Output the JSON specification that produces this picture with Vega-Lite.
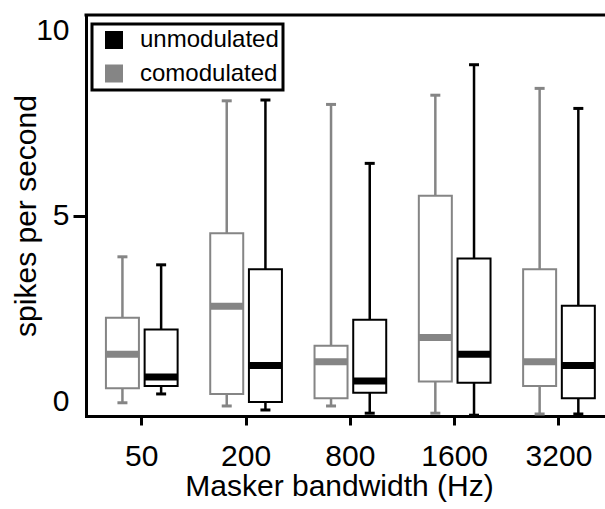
{
  "$schema": "https://vega.github.io/schema/vega-lite/v6.json",
  "width": 519,
  "height": 401,
  "autosize": {"type": "none"},
  "padding": {"left": 86, "top": 15, "right": 0, "bottom": 93},
  "background": "white",
  "config": {"view": {"stroke": null}, "font": "Liberation Sans"},
  "data": {
    "values": [
      {"band": "50", "cond": "comodulated", "lower": 0.33, "q1": 0.69, "median": 1.54, "q3": 2.45, "upper": 3.97},
      {"band": "50", "cond": "unmodulated", "lower": 0.55, "q1": 0.75, "median": 0.97, "q3": 2.16, "upper": 3.77},
      {"band": "200", "cond": "comodulated", "lower": 0.25, "q1": 0.55, "median": 2.74, "q3": 4.56, "upper": 7.86},
      {"band": "200", "cond": "unmodulated", "lower": 0.15, "q1": 0.35, "median": 1.26, "q3": 3.66, "upper": 7.88},
      {"band": "800", "cond": "comodulated", "lower": 0.25, "q1": 0.44, "median": 1.35, "q3": 1.75, "upper": 7.77},
      {"band": "800", "cond": "unmodulated", "lower": 0.07, "q1": 0.58, "median": 0.87, "q3": 2.40, "upper": 6.30},
      {"band": "1600", "cond": "comodulated", "lower": 0.07, "q1": 0.86, "median": 1.96, "q3": 5.49, "upper": 8.00},
      {"band": "1600", "cond": "unmodulated", "lower": 0.02, "q1": 0.83, "median": 1.54, "q3": 3.93, "upper": 8.76},
      {"band": "3200", "cond": "comodulated", "lower": 0.05, "q1": 0.75, "median": 1.35, "q3": 3.66, "upper": 8.17},
      {"band": "3200", "cond": "unmodulated", "lower": 0.05, "q1": 0.44, "median": 1.26, "q3": 2.75, "upper": 7.67}
    ]
  },
  "layer": [
    {
      "encoding": {
        "x": {
          "field": "band", "type": "ordinal",
          "sort": ["50", "200", "800", "1600", "3200"],
          "scale": {"paddingInner": 0.258, "paddingOuter": 0.117, "align": 0.7},
          "axis": {
            "domainWidth": 3, "domainColor": "black", "domainCap": "square",
            "tickSize": 9, "tickWidth": 3, "tickColor": "black",
            "labelFontSize": 30, "labelColor": "black", "labelPadding": 16, "labelAngle": 0,
            "title": "Masker bandwidth (Hz)", "titleFontSize": 30, "titleFontWeight": "normal",
            "titleColor": "black", "titleBaseline": "alphabetic", "titleY": 79, "titleX": 253
          }
        },
        "xOffset": {
          "field": "cond", "type": "nominal",
          "sort": ["comodulated", "unmodulated"],
          "scale": {"paddingInner": 0, "paddingOuter": 0}
        }
      },
      "layer": [
        {
          "mark": {"type": "rule", "strokeWidth": 2.5},
          "encoding": {
            "y": {
              "field": "lower", "type": "quantitative",
              "scale": {"domain": [0, 10], "nice": false, "zero": false},
              "axis": {
                "values": [0, 5, 10], "labelFlush": true, "grid": false,
                "domainWidth": 3, "domainColor": "black", "domainCap": "square",
                "tickSize": 13, "tickWidth": 3, "tickColor": "black",
                "tickOpacity": {"condition": {"test": "datum.value === 5", "value": 1}, "value": 0},
                "labelFontSize": 30, "labelColor": "black", "labelPadding": 4,
                "title": "spikes per second", "titleFontSize": 30, "titleFontWeight": "normal",
                "titleColor": "black", "titleX": -51, "titleBaseline": "alphabetic"
              }
            },
            "y2": {"field": "upper"},
            "color": {
              "field": "cond", "type": "nominal",
              "scale": {"domain": ["unmodulated", "comodulated"], "range": ["#000000", "#858585"]},
              "legend": {
                "orient": "none", "legendX": 6, "legendY": 9, "title": null,
                "strokeColor": "black", "fillColor": "white", "padding": 4,
                "symbolType": "square", "symbolSize": 324, "symbolOffset": 6,
                "labelFontSize": 24, "labelColor": "black", "labelOffset": 14, "rowPadding": 9.5,
                "encode": {
                  "legend": {"update": {"strokeWidth": {"value": 3}}},
                  "symbols": {"update": {"fill": {"scale": "color", "field": "value"}, "stroke": {"value": "transparent"}, "strokeWidth": {"value": 0}, "opacity": {"value": 1}}}
                }
              }
            }
          }
        },
        {
          "mark": {"type": "bar", "fill": "white", "strokeWidth": 2, "width": 33},
          "encoding": {
            "y": {"field": "q1", "type": "quantitative"},
            "y2": {"field": "q3"},
            "stroke": {
              "field": "cond", "type": "nominal",
              "scale": {"domain": ["unmodulated", "comodulated"], "range": ["#000000", "#858585"]},
              "legend": null
            }
          }
        },
        {
          "mark": {"type": "tick", "thickness": 7, "size": 33, "opacity": 1},
          "encoding": {
            "y": {"field": "median", "type": "quantitative"},
            "color": {"field": "cond", "type": "nominal"}
          }
        },
        {
          "mark": {"type": "tick", "thickness": 3, "size": 10, "opacity": 1},
          "encoding": {
            "y": {"field": "lower", "type": "quantitative"},
            "color": {"field": "cond", "type": "nominal"}
          }
        },
        {
          "mark": {"type": "tick", "thickness": 3, "size": 10, "opacity": 1},
          "encoding": {
            "y": {"field": "upper", "type": "quantitative"},
            "color": {"field": "cond", "type": "nominal"}
          }
        }
      ]
    },
    {
      "data": {"values": [{"edge": "top"}]},
      "mark": {"type": "rule", "strokeWidth": 3, "color": "black", "strokeCap": "square"},
      "encoding": {"y": {"datum": 10}}
    }
  ]
}
